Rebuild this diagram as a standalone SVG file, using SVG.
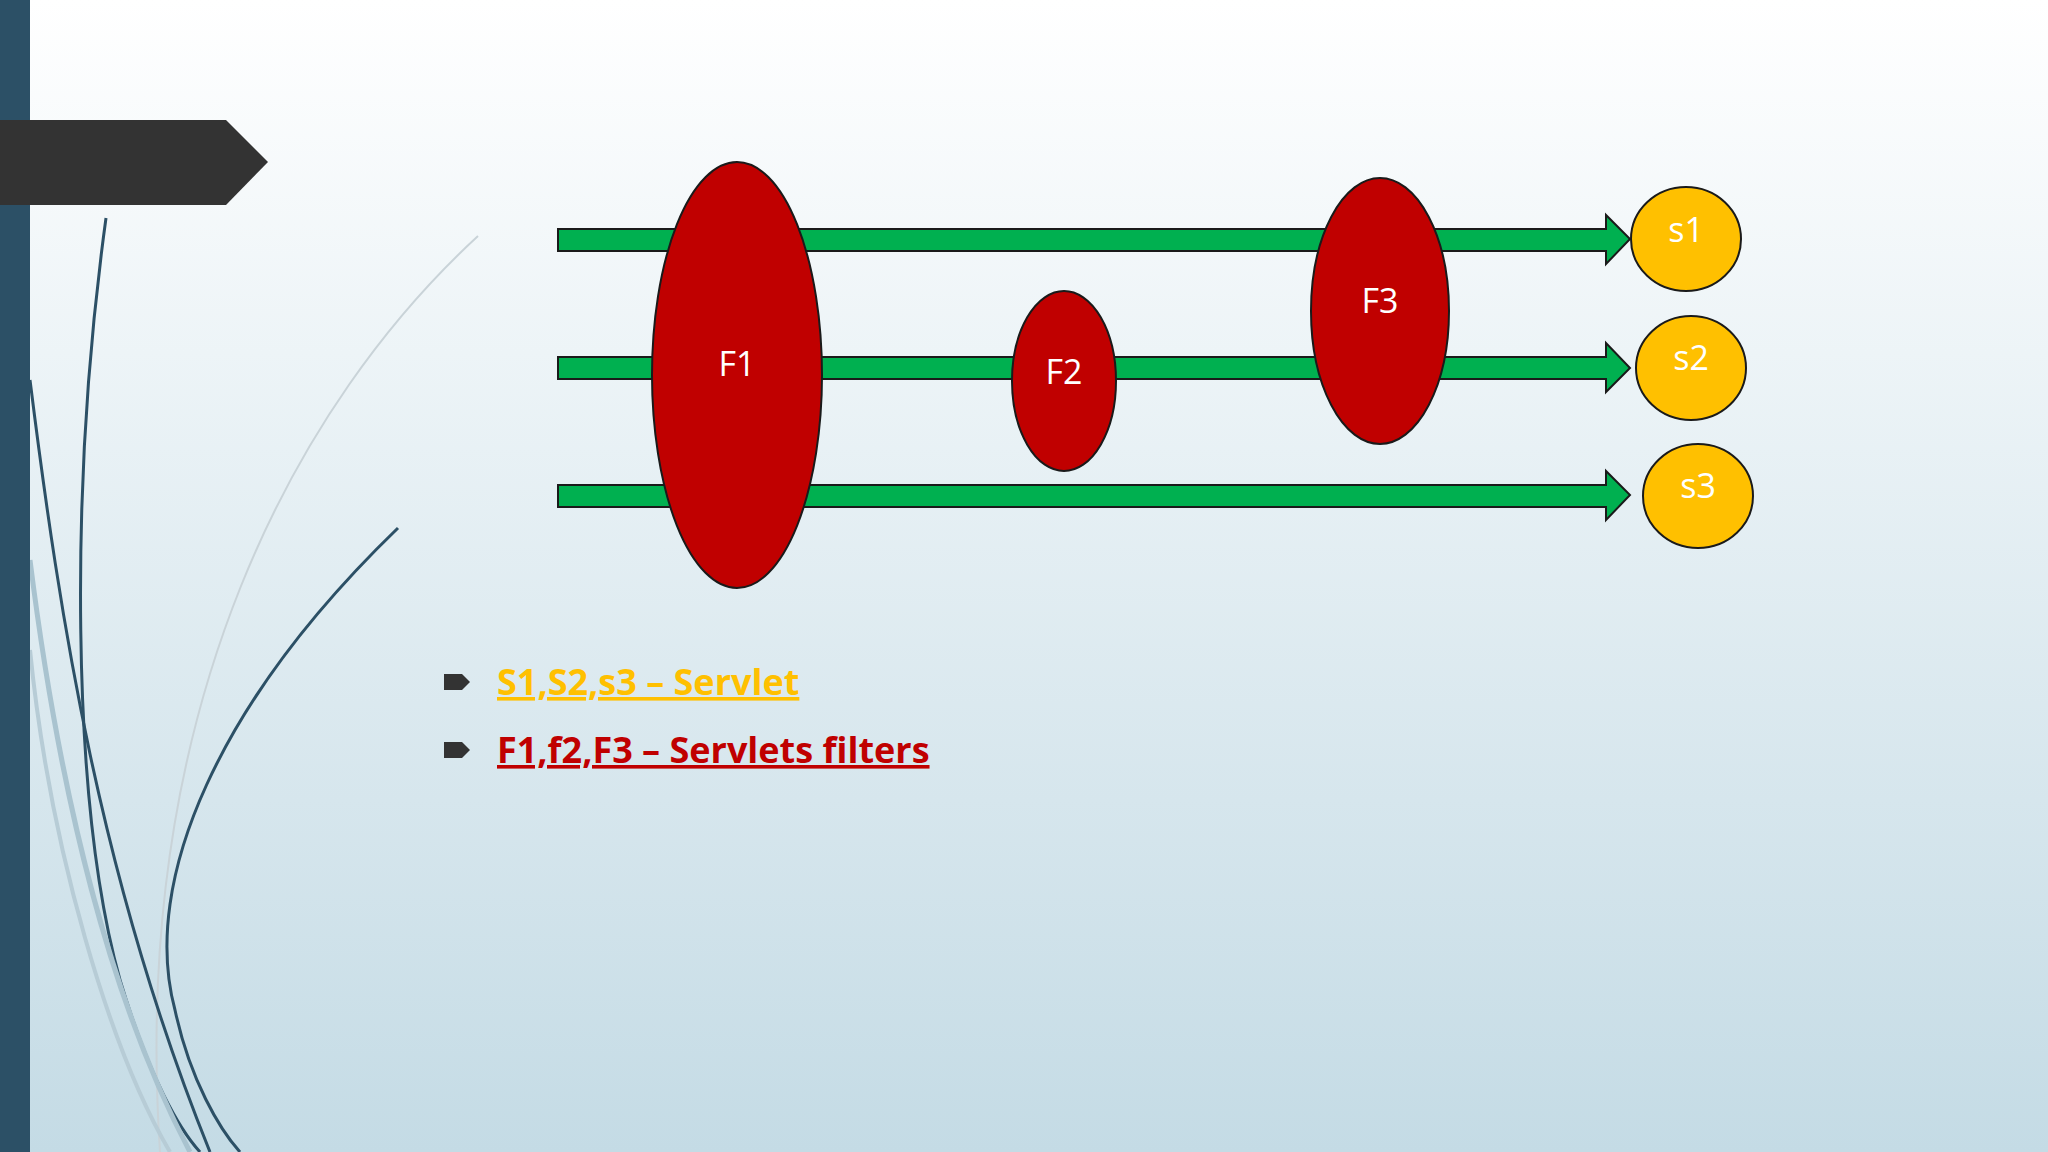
<svg xmlns="http://www.w3.org/2000/svg" width="2048" height="1152" viewBox="0 0 2048 1152">
<defs>
<linearGradient id="bg" x1="0" y1="0" x2="0" y2="1"><stop offset="0" stop-color="#ffffff"/><stop offset="1" stop-color="#c4dbe5"/></linearGradient>
<style>
.arr{fill:#00b050;stroke:#1a1a1a;stroke-width:2}
.f{fill:#c00000;stroke:#1a1a1a;stroke-width:2}
.s{fill:#ffc000;stroke:#1a1a1a;stroke-width:2}
.lbl{font-family:"Open Sans","Noto Sans",sans-serif;font-size:34px;fill:#fff;text-anchor:middle}
.b{font-family:"Open Sans","Noto Sans",sans-serif;font-size:36px;font-weight:bold;text-decoration:underline}
.deco{fill:none;stroke:#2c5066;stroke-width:3}
</style>
</defs>
<rect width="2048" height="1152" fill="url(#bg)"/>
<g id="decor">
<path d="M478 236 C300 400 130 700 160 1152" fill="none" stroke="#c9d3d8" stroke-width="2"/>
<path d="M398 528 C220 700 140 880 175 1010 C190 1080 220 1130 240 1152" class="deco"/>
<path d="M106 218 C70 480 70 800 120 980 C150 1080 180 1130 200 1152" class="deco"/>
<path d="M30 380 C60 620 100 880 210 1152" class="deco"/>
<path d="M30 560 C60 800 110 1000 190 1152" fill="none" stroke="#a9c3cf" stroke-width="5"/>
<path d="M30 650 C50 850 110 1050 170 1152" fill="none" stroke="#b7ccd6" stroke-width="4"/>
<rect x="0" y="0" width="30" height="1152" fill="#2c5066"/>
<path d="M0 120 H226 L268 162 L226 205 H0 Z" fill="#333333"/>
</g>
<g id="connectors">
<path class="arr" d="M558 229 H1606 V215 L1630 239 L1606 264 V251 H558 Z"/>
<path class="arr" d="M558 357 H1606 V343 L1630 368 L1606 392 V379 H558 Z"/>
<path class="arr" d="M558 485 H1606 V471 L1630 495 L1606 520 V507 H558 Z"/>
</g>
<g id="F1"><ellipse class="f" cx="737" cy="375" rx="85" ry="213"/><text class="lbl" x="737" y="376">F1</text></g>
<g id="F2"><ellipse class="f" cx="1064" cy="381" rx="52" ry="90"/><text class="lbl" x="1064" y="384">F2</text></g>
<g id="F3"><ellipse class="f" cx="1380" cy="311" rx="69" ry="133"/><text class="lbl" x="1380" y="313">F3</text></g>
<g id="s1"><ellipse class="s" cx="1686" cy="239" rx="55" ry="52"/><text class="lbl" x="1686" y="242">s1</text></g>
<g id="s2"><ellipse class="s" cx="1691" cy="368" rx="55" ry="52"/><text class="lbl" x="1691" y="370">s2</text></g>
<g id="s3"><ellipse class="s" cx="1698" cy="496" rx="55" ry="52"/><text class="lbl" x="1698" y="498">s3</text></g>
<g id="legend">
<path d="M444 674 H462 L470 682 L462 690 H444 Z" fill="#333"/>
<path d="M444 742 H462 L470 750 L462 758 H444 Z" fill="#333"/>
<text class="b" x="497" y="695" fill="#ffc000">S1,S2,s3 – Servlet</text>
<text class="b" x="497" y="763" fill="#c00000">F1,f2,F3 – Servlets filters</text>
</g>
</svg>
